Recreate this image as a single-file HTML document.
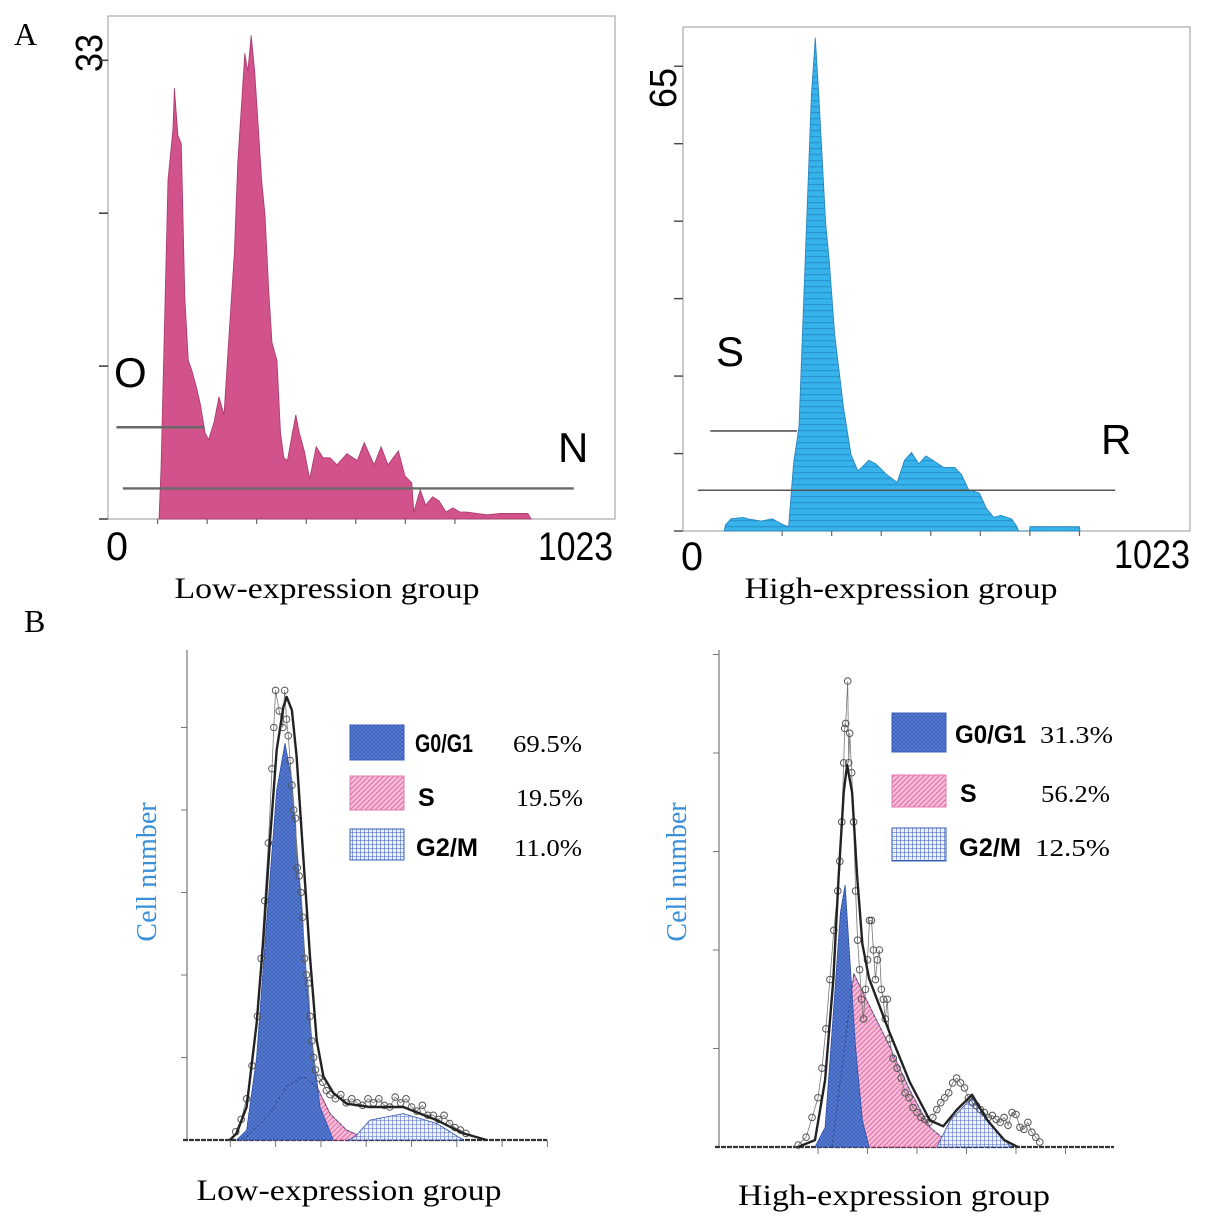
<!DOCTYPE html>
<html><head><meta charset="utf-8"><style>
html,body{margin:0;padding:0;background:#fff;}
svg{display:block;}
</style></head><body>
<svg id="fig" width="1205" height="1225" viewBox="0 0 1205 1225" xmlns="http://www.w3.org/2000/svg">
<defs>
  <pattern id="pBlue" width="4" height="4" patternUnits="userSpaceOnUse">
    <rect width="4" height="4" fill="#5d83d6"/>
    <path d="M0,0 L4,4 M4,0 L0,4" stroke="#3a5cb8" stroke-width="0.8"/>
  </pattern>
  <pattern id="pPink" width="5" height="5" patternUnits="userSpaceOnUse">
    <rect width="5" height="5" fill="#f6bcd8"/>
    <path d="M0,5 L5,0 M-1,1 L1,-1 M4,6 L6,4" stroke="#e070a8" stroke-width="1.1"/>
  </pattern>
  <pattern id="pGrid" width="4" height="4" patternUnits="userSpaceOnUse">
    <rect width="4" height="4" fill="#eef2ff"/>
    <path d="M0,0 H4 M0,0 V4" stroke="#3d5fc0" stroke-width="1.1"/>
  </pattern>
  <pattern id="pCyan" width="6" height="6" patternUnits="userSpaceOnUse">
    <rect width="6" height="6" fill="#35b3ea"/>
    <rect y="4" width="6" height="1.3" fill="#2a95d0"/>
  </pattern>
</defs>

<text x="14" y="45" font-family="Liberation Serif, serif" font-size="32">A</text>
<text x="24" y="632" font-family="Liberation Serif, serif" font-size="32">B</text>

<g id="aLeft">
  <rect x="108" y="16" width="507" height="503" fill="none" stroke="#aaa" stroke-width="1.2"/>
  <text transform="translate(102,72) rotate(-90)" font-family="Liberation Sans, sans-serif" font-size="38" textLength="38" lengthAdjust="spacingAndGlyphs">33</text>
  <text x="106" y="560" font-family="Liberation Sans, sans-serif" font-size="40" textLength="22" lengthAdjust="spacingAndGlyphs">0</text>
  <text x="538" y="560" font-family="Liberation Sans, sans-serif" font-size="40" textLength="75" lengthAdjust="spacingAndGlyphs">1023</text>
  <text x="114" y="387" font-family="Liberation Sans, sans-serif" font-size="42">O</text>
  <text x="558" y="462" font-family="Liberation Sans, sans-serif" font-size="42">N</text>
  <text x="327" y="598" text-anchor="middle" font-family="Liberation Serif, serif" font-size="30" textLength="305" lengthAdjust="spacingAndGlyphs">Low-expression group</text>
</g>

<g id="aRight">
  <rect x="683" y="27" width="507" height="504" fill="none" stroke="#aaa" stroke-width="1.2"/>
  <text transform="translate(676,108) rotate(-90)" font-family="Liberation Sans, sans-serif" font-size="38" textLength="40" lengthAdjust="spacingAndGlyphs">65</text>
  <text x="681" y="570" font-family="Liberation Sans, sans-serif" font-size="40" textLength="22" lengthAdjust="spacingAndGlyphs">0</text>
  <text x="1114" y="568" font-family="Liberation Sans, sans-serif" font-size="40" textLength="76" lengthAdjust="spacingAndGlyphs">1023</text>
  <text x="716" y="366" font-family="Liberation Sans, sans-serif" font-size="42">S</text>
  <text x="1101" y="454" font-family="Liberation Sans, sans-serif" font-size="42">R</text>
  <text x="901" y="598" text-anchor="middle" font-family="Liberation Serif, serif" font-size="30" textLength="313" lengthAdjust="spacingAndGlyphs">High-expression group</text>
</g>

<g id="bLeft">
  <text transform="translate(156,872) rotate(-90)" text-anchor="middle" font-family="Liberation Serif, serif" font-size="28" fill="#3b8fd8">Cell number</text>
  <text x="349" y="1200" text-anchor="middle" font-family="Liberation Serif, serif" font-size="30" textLength="305" lengthAdjust="spacingAndGlyphs">Low-expression group</text>
</g>
<g id="bRight">
  <text transform="translate(686,872) rotate(-90)" text-anchor="middle" font-family="Liberation Serif, serif" font-size="28" fill="#3b8fd8">Cell number</text>
  <text x="894" y="1205" text-anchor="middle" font-family="Liberation Serif, serif" font-size="30" textLength="312" lengthAdjust="spacingAndGlyphs">High-expression group</text>
</g>
</svg>

<script>
// ---------- Data: Panel A left (low expression) ----------
const lowChannels = [103,107,114,121,131,134,141,148,155,162,169,179,186,196,203,214,224,234,241,248,255,262,269,276,282,289,296,303,310,317,324,331,341,348,355,362,372,379,386,396,407,420,434,448,462,482,503,517,537,551,565,586,599,613,617,630,641,655,668,682,696,710,723,744,765,792,827,847,854];
const lowCounts   = [0,3.6,14,24.4,28,31,27.6,27,16,11.4,10.7,9.4,8.3,6.2,5.7,7,8.8,7.5,11.4,15.3,19.2,25.7,29.6,33.5,32.2,34.8,32.2,28.3,24.4,21.8,16.6,12.7,11.4,6.2,4.4,4.2,6.2,7.5,6.2,4.9,2.9,5.2,4.4,4.4,3.9,4.7,4.2,5.5,3.9,5.2,3.9,4.9,3.1,2.6,0.5,2.1,1,1.6,1.3,0.5,0.8,0.5,0.5,0.4,0.3,0.4,0.4,0.4,0];
const lowYTicks = [0,11,22,33];
const lowXTicks = [100,200,300,400,500,600,700];
const lowMarkerO = [17,195,6.6];
const lowMarkerN = [30,940,2.2];

// ---------- Data: Panel A right (high expression) ----------
const highChannels = [83,86,97,122,130,158,180,202,213,223,234,241,252,259,267,274,288,295,306,324,339,353,375,389,411,432,447,461,476,490,504,526,548,562,576,598,612,627,641,663,674,677,680,699,700,800,801];
const highCounts   = [0,0.9,1.7,1.9,1.7,1.4,1.7,0.9,0.6,9.4,14.6,27.5,48,61,69,61,43,37.9,27.5,17.2,10.7,8.4,9.9,9.4,7.9,6.8,9.9,11,9.4,10.5,9.9,8.9,8.9,7.9,5.8,5.3,3.2,1.9,2.2,1.7,0.6,0,0,0,0.6,0.6,0];
const highYTicks = [0,10.83,21.67,32.5,43.33,54.17,65];
const highXTicks = [200,300,400,500,600,700,800];
const highMarkerS = [55,230,14];
const highMarkerR = [30,872,5.7];

// ---------- Data: Panel B left ----------
const bLowTotalX = [24.8,28.5,34,39.5,43.2,46.9,50.6,54.3,56.1,59,61.6,65.3,69,72.7,76.4,81.9,89.2,102,120.5,139,153.6,166.5];
const bLowTotalY = [0,0.08,0.4,1.41,2.42,3.64,4.73,5.25,5.37,5.21,4.65,3.43,2.22,1.21,0.77,0.57,0.44,0.4,0.4,0.24,0.08,0];
const bLowG1X = [28.5,34,39.5,45,50.6,55.2,59,63.5,69,74.5,81.9];
const bLowG1Y = [0,0.12,1,2.63,4.24,4.81,4.36,3.03,1.41,0.4,0];
const bLowSX = [28.5,34,46.9,56.1,65.3,72.7,80,89.2,102];
const bLowSY = [0,0.04,0.32,0.65,0.77,0.65,0.32,0.12,0];
const bLowG2X = [90,94,102,120.5,139,153.6];
const bLowG2Y = [0,0.04,0.24,0.32,0.2,0];
const bLowObsX = [28,31,34,37,40,42,44,46,48,49,50,52,54,55,56,57,58,59,60,61,62,63,64,65,66,67,68,69,70,71,72,74,76,78,80,83,86,89,92,95,98,101,104,107,110,113,116,119,122,125,128,131,134,137,140,143,146,149,152,155];
const bLowObsY = [0.1,0.25,0.5,0.9,1.5,2.2,2.9,3.6,4.5,5.0,5.45,5.2,5.0,5.45,5.1,4.9,4.6,4.3,4.0,3.9,3.3,3.2,3.0,2.7,2.2,2.0,1.9,1.5,1.2,1.0,0.85,0.75,0.7,0.6,0.55,0.5,0.55,0.45,0.5,0.45,0.42,0.5,0.45,0.5,0.42,0.4,0.52,0.45,0.5,0.4,0.35,0.42,0.3,0.3,0.25,0.3,0.2,0.15,0.12,0.08];
const bLowYTicks = [1,2,3,4,5];
const bLowXTicks = [25,50,75,100,125,150,175,200];
const bLowLegendNames = ["G0/G1","S","G2/M"];
const bLowLegendValues = ["69.5%","19.5%","11.0%"];

// ---------- Data: Panel B right ----------
const bHighTotalX = [39.9,48.5,53.6,57.8,60.4,63,64.7,67.2,69.8,72.4,75.8,86,96.3,106.5,113.3,120.2,127.8,135.6,144.1,150.9];
const bHighTotalY = [0,0.07,0.68,1.71,2.74,3.6,3.88,3.6,2.74,2.06,1.71,1.17,0.66,0.27,0.21,0.38,0.53,0.27,0.07,0];
const bHighG1X = [48.5,53.6,57.8,61.3,63.7,65.6,68.9,72.4,75.8];
const bHighG1Y = [0,0.2,1.37,2.38,2.66,2.06,1.03,0.27,0];
const bHighSX = [57,65.6,68.1,75.8,86,96.3,106.5,118.5];
const bHighSY = [0,1.37,1.76,1.44,1.03,0.58,0.2,0];
const bHighG2X = [110,116.8,127.8,135.6,147.5];
const bHighG2Y = [0,0.27,0.5,0.27,0];
const bHighObsX = [40,44,47,50,52,54,56,58,60,61,62,63,63.5,64,65,65.5,66,67,68,69,70,71,72,73,74,75,76,77,78,79,80,81,82,83,84,85,86,88,90,92,94,96,98,100,102,104,106,108,110,112,114,116,118,120,122,124,126,128,130,132,134,136,138,140,142,144,146,148,150,152,154,156,158,160,162];
const bHighObsY = [0.02,0.1,0.3,0.5,0.8,1.2,1.7,2.2,2.6,2.9,3.3,3.9,4.25,4.3,4.73,3.9,4.2,3.8,3.3,2.6,2.1,1.8,1.5,1.3,1.6,1.9,2.3,2.3,2.0,1.7,1.9,2.0,1.6,1.5,1.3,1.5,1.1,0.9,0.8,0.7,0.55,0.5,0.4,0.35,0.3,0.28,0.25,0.3,0.38,0.45,0.5,0.55,0.65,0.7,0.65,0.6,0.5,0.45,0.42,0.38,0.35,0.3,0.32,0.28,0.25,0.3,0.22,0.35,0.33,0.2,0.18,0.25,0.15,0.1,0.05];
const bHighYTicks = [1,2,3,4,5];
const bHighXTicks = [50,75,100,125,150,175];
const bHighLegendNames = ["G0/G1","S","G2/M"];
const bHighLegendValues = ["31.3%","56.2%","12.5%"];

// ---------- Scales ----------
const xAL = ch => 108 + ch*0.4956, yAL = c => 519 - c*13.9;
const xAR = ch => 683 + ch*0.4956, yAR = c => 531 - c*7.15;
const xBL = v => 185 + v*1.812,   yBL = u => 1140 - u*82.5;
const xBR = v => 719 + v*1.98,    yBR = u => 1147 - u*98.5;

const NS = "http://www.w3.org/2000/svg";
function mk(parent, tag, attrs){
  const e = document.createElementNS(NS, tag);
  for (const k in attrs) e.setAttribute(k, attrs[k]);
  parent.appendChild(e);
  return e;
}
function pts(xs, ys, fx, fy){ return xs.map((x,i)=>fx(x).toFixed(1)+","+fy(ys[i]).toFixed(1)).join(" "); }

(function(){
  const g = document.getElementById('aLeft');
  const hist = mk(g,'polygon',{points: pts(lowChannels,lowCounts,xAL,yAL), fill:'#d2528c', stroke:'#a8386c', 'stroke-width':'0.8'});
  
  
  lowYTicks.forEach(t=>{
    const l = mk(g,'line',{x1:99,x2:108,y1:yAL(t),y2:yAL(t),stroke:'#444','stroke-width':1.6});
    
    
  });
  lowXTicks.forEach(t=>{
    const l = mk(g,'line',{x1:xAL(t),x2:xAL(t),y1:519,y2:524,stroke:'#666','stroke-width':1.2});
    
    
  });
  [lowMarkerO,lowMarkerN].forEach((m,i)=>{
    const l = mk(g,'line',{x1:xAL(m[0]),x2:xAL(m[1]),y1:yAL(m[2]),y2:yAL(m[2]),stroke:'#6a6a6a','stroke-width':2.4});
    
    
  });
})();

(function(){
  const g = document.getElementById('aRight');
  const hist = mk(g,'polygon',{points: pts(highChannels,highCounts,xAR,yAR), fill:'url(#pCyan)', stroke:'#2780b8', 'stroke-width':'0.8'});
  
  
  highYTicks.forEach(t=>{
    const l = mk(g,'line',{x1:674,x2:683,y1:yAR(t),y2:yAR(t),stroke:'#444','stroke-width':1.4});
    
    
  });
  highXTicks.forEach(t=>{
    const l = mk(g,'line',{x1:xAR(t),x2:xAR(t),y1:531,y2:536,stroke:'#666','stroke-width':1.2});
    
    
  });
  [highMarkerS,highMarkerR].forEach((m,i)=>{
    const l = mk(g,'line',{x1:xAR(m[0]),x2:xAR(m[1]),y1:yAR(m[2]),y2:yAR(m[2]),stroke:'#555','stroke-width':1.6});
    
    
  });
})();

function drawB(id, fx, fy, axisX, top, base, right, d){
  const g = document.getElementById(id);
  const ax = mk(g,'line',{x1:axisX,x2:axisX,y1:top,y2:base,stroke:'#777','stroke-width':1.2});
  
  
  const bx = mk(g,'line',{x1:axisX-4,x2:right,y1:base,y2:base,stroke:'#333','stroke-width':2.2,'stroke-dasharray':'5,1'});
  
  
  d.yTicks.forEach(t=>{
    const l = mk(g,'line',{x1:axisX-6,x2:axisX,y1:fy(t),y2:fy(t),stroke:'#777','stroke-width':1});
    
    
  });
  d.xTicks.forEach(t=>{
    const l = mk(g,'line',{x1:fx(t),x2:fx(t),y1:base,y2:base+7,stroke:'#777','stroke-width':1});
    
    
  });
  const s = mk(g,'polygon',{points:pts(d.sX,d.sY,fx,fy),fill:'url(#pPink)',stroke:'#c04888','stroke-width':0.8});
  
  
  const g1 = mk(g,'polygon',{points:pts(d.g1X,d.g1Y,fx,fy),fill:'url(#pBlue)',stroke:'#3050a8','stroke-width':0.8});
  
  
  const sd = mk(g,'polyline',{points:pts(d.sX,d.sY,fx,fy),fill:'none',stroke:'#344a8a','stroke-width':0.9,'stroke-dasharray':'3,2'});
  
  
  const g2 = mk(g,'polygon',{points:pts(d.g2X,d.g2Y,fx,fy),fill:'url(#pGrid)','fill-opacity':0.9,stroke:'#3050a8','stroke-width':0.8});
  
  
  const ob = mk(g,'polyline',{points:pts(d.obsX,d.obsY,fx,fy),fill:'none',stroke:'#777','stroke-width':0.8});
  
  
  d.obsX.forEach((x,i)=>{
    const c = mk(g,'circle',{cx:fx(x),cy:fy(d.obsY[i]),r:3.3,fill:'none',stroke:'#555','stroke-width':1});
    
    
  });
  const tot = mk(g,'polyline',{points:pts(d.totX,d.totY,fx,fy),fill:'none',stroke:'#222','stroke-width':2.4,'stroke-linejoin':'round'});
  
  
  const fills = ['url(#pBlue)','url(#pPink)','url(#pGrid)'];
  d.names.forEach((n,i)=>{
    const L = d.leg[i];
    const r = mk(g,'rect',{x:L.bx,y:L.by,width:54,height:L.bh,fill:fills[i],stroke:i===1?'#e07ab0':'#3a5cb8','stroke-width':1});
    
    
    const t = mk(g,'text',{x:L.tx,y:L.ty,'font-family':'Liberation Sans, sans-serif','font-size':25,'font-weight':'bold'});
    
    
    if (n.length>1){ t.setAttribute('textLength', L.tw); t.setAttribute('lengthAdjust','spacingAndGlyphs'); }
    t.textContent = n;
    const v = mk(g,'text',{x:L.vx,y:L.ty,'font-family':'Liberation Serif, serif','font-size':24,textLength:L.vw,lengthAdjust:'spacingAndGlyphs'});
    
    
    v.textContent = d.values[i];
  });
}

drawB('bLeft', xBL, yBL, 187, 650, 1140, 547, {
  yTicks:bLowYTicks, xTicks:bLowXTicks,
  totX:bLowTotalX, totY:bLowTotalY, g1X:bLowG1X, g1Y:bLowG1Y, sX:bLowSX, sY:bLowSY, g2X:bLowG2X, g2Y:bLowG2Y,
  obsX:bLowObsX, obsY:bLowObsY, names:bLowLegendNames, values:bLowLegendValues,
  leg:[{bx:350,by:725,bh:35,tx:415,ty:752,tw:58,vx:513,vw:69},
       {bx:350,by:776,bh:34,tx:418,ty:806,tw:0,vx:516,vw:67},
       {bx:350,by:829,bh:31,tx:416,ty:856,tw:62,vx:514,vw:68}]
});
drawB('bRight', xBR, yBR, 719, 650, 1147, 1114, {
  yTicks:bHighYTicks, xTicks:bHighXTicks,
  totX:bHighTotalX, totY:bHighTotalY, g1X:bHighG1X, g1Y:bHighG1Y, sX:bHighSX, sY:bHighSY, g2X:bHighG2X, g2Y:bHighG2Y,
  obsX:bHighObsX, obsY:bHighObsY, names:bHighLegendNames, values:bHighLegendValues,
  leg:[{bx:892,by:713,bh:39,tx:955,ty:743,tw:71,vx:1040,vw:73},
       {bx:892,by:775,bh:32,tx:960,ty:802,tw:0,vx:1041,vw:69},
       {bx:892,by:828,bh:33,tx:959,ty:856,tw:62,vx:1035,vw:75}]
});
</script>
</body></html>
